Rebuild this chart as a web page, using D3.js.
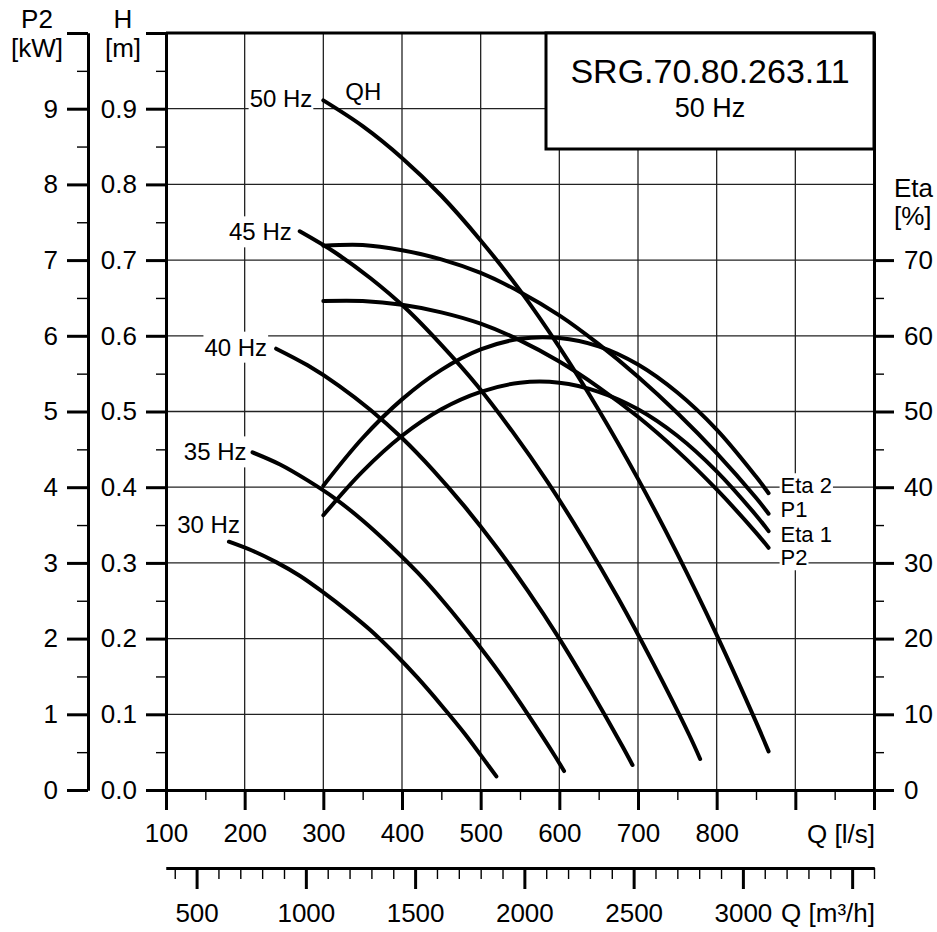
<!DOCTYPE html>
<html>
<head>
<meta charset="utf-8">
<script src="https://cdn.jsdelivr.net/npm/d3@7"></script>
<style>
  body { margin: 0; background: #fff; }
  svg { font-family: "Liberation Sans", Arial, Helvetica, sans-serif; }
</style>
</head>
<body>
<svg id="chart"></svg>
<script>
// QH curves per frequency: [Q l/s, H m]
const qh50 = [[300,0.911],[350,0.877],[400,0.835],[450,0.785],[500,0.726],[550,0.660],[600,0.585],[650,0.502],[700,0.411],[750,0.312],[800,0.205],[850,0.090],[866,0.051]];
const qh45 = [[270,0.738],[315,0.710],[360,0.676],[405,0.636],[450,0.588],[495,0.535],[540,0.474],[585,0.407],[630,0.333],[675,0.253],[720,0.166],[765,0.073],[779,0.041]];
const qh40 = [[240,0.583],[280,0.561],[320,0.534],[360,0.502],[400,0.465],[440,0.422],[480,0.374],[520,0.321],[560,0.263],[600,0.200],[640,0.131],[680,0.058],[693,0.033]];
const qh35 = [[210,0.446],[245,0.430],[280,0.409],[315,0.385],[350,0.356],[385,0.323],[420,0.287],[455,0.246],[490,0.201],[525,0.153],[560,0.100],[595,0.044],[606,0.025]];
const qh30 = [[180,0.328],[210,0.316],[240,0.301],[270,0.283],[300,0.261],[330,0.237],[360,0.211],[390,0.181],[420,0.148],[450,0.112],[480,0.074],[510,0.032],[520,0.018]];
const freqLabels = ["50 Hz", "45 Hz", "40 Hz", "35 Hz", "30 Hz"];

// power [kW] and efficiency [%] at 50 Hz
const p1 = [[300,7.19],[350,7.20],[400,7.13],[450,7.01],[500,6.83],[550,6.58],[600,6.27],[650,5.89],[700,5.46],[750,4.98],[800,4.45],[850,3.86],[866,3.65]];
const p2 = [[300,6.46],[350,6.46],[400,6.41],[450,6.31],[500,6.16],[550,5.94],[600,5.66],[650,5.32],[700,4.93],[750,4.48],[800,3.97],[850,3.40],[866,3.20]];
const eta1 = [[300,36.3],[350,42.1],[400,46.8],[450,50.3],[500,52.6],[550,53.8],[600,53.8],[650,52.6],[700,50.3],[750,46.8],[800,42.1],[850,36.3],[866,34.2]];
const eta2 = [[300,40.2],[350,46.5],[400,51.6],[450,55.5],[500,58.2],[550,59.6],[600,59.7],[650,58.6],[700,56.2],[750,52.5],[800,47.6],[850,41.4],[866,39.2]];
const sideLabels = ["Eta 2", "P1", "Eta 1", "P2"];

// ticks
const qTicks = [100, 200, 300, 400, 500, 600, 700, 800, 900, 1000];
const qMinor = [150, 250, 350, 450, 550, 650, 750, 850, 950];
const m3hTicks = [500, 1000, 1500, 2000, 2500, 3000, 3500];
const m3hMinor = [400, 600, 700, 800, 900, 1100, 1200, 1300, 1400, 1600, 1700, 1800, 1900, 2100, 2200, 2300, 2400, 2600, 2700, 2800, 2900, 3100, 3200, 3300, 3400, 3600];
const hTicks = [0, 0.1, 0.2, 0.3, 0.4, 0.5, 0.6, 0.7, 0.8, 0.9, 1.0];
const hMinor = [0.05, 0.15, 0.25, 0.35, 0.45, 0.55, 0.65, 0.75, 0.85, 0.95];
const pTicks = [0, 1, 2, 3, 4, 5, 6, 7, 8, 9, 10];
const pMinor = [0.5, 1.5, 2.5, 3.5, 4.5, 5.5, 6.5, 7.5, 8.5, 9.5];
const etaTicks = [0, 10, 20, 30, 40, 50, 60, 70];
const etaMinor = [5, 15, 25, 35, 45, 55, 65];
const qGrid = [200, 300, 400, 500, 600, 700, 800, 900];
const hGrid = [0.1, 0.2, 0.3, 0.4, 0.5, 0.6, 0.7, 0.8, 0.9];

const canvWidth = 937;
const canvHeight = 932;
const margin = { top: 33, right: 63, bottom: 142, left: 166 };
const width = canvWidth - margin.left - margin.right;
const height = canvHeight - margin.top - margin.bottom;

const svg = d3.select("#chart")
    .attr("width", canvWidth)
    .attr("height", canvHeight);
const g = svg.append("g")
    .attr("transform", "translate(" + margin.left + "," + margin.top + ")");

// scales
const x = d3.scaleLinear().domain([100, 1000]).range([0, width]);
const xM3h = d3.scaleLinear().domain([360, 3600]).range([0, width]);
const yH = d3.scaleLinear().domain([0, 1]).range([height, 0]);
const yP = d3.scaleLinear().domain([0, 10]).range([height, 0]);
const yEta = d3.scaleLinear().domain([0, 100]).range([height, 0]);

// grid
g.append("g").selectAll("line").data(qGrid).enter().append("line")
    .attr("x1", d => x(d)).attr("x2", d => x(d))
    .attr("y1", 0).attr("y2", height)
    .attr("stroke", "#222").attr("stroke-width", 1.3);
g.append("g").selectAll("line").data(hGrid).enter().append("line")
    .attr("x1", 0).attr("x2", width)
    .attr("y1", d => yH(d)).attr("y2", d => yH(d))
    .attr("stroke", "#222").attr("stroke-width", 1.3);

function styleAxis(sel, tickWidth) {
    sel.attr("font-size", 26).attr("font-family", null);
    sel.select(".domain").attr("stroke", "#000").attr("stroke-width", 3);
    sel.selectAll(".tick line").attr("stroke", "#000").attr("stroke-width", tickWidth);
    sel.selectAll(".tick text").attr("fill", "#000");
}

// H axis
g.append("g")
    .call(d3.axisLeft(yH).tickValues(hMinor).tickSize(10).tickSizeOuter(0).tickFormat(""))
    .call(s => styleAxis(s, 1.4));
g.append("g")
    .call(d3.axisLeft(yH).tickValues(hTicks).tickSize(20).tickSizeOuter(0).tickPadding(9)
        .tickFormat(d => d < 1 ? d3.format(".1f")(d) : ""))
    .call(s => styleAxis(s, 3));

// P2 axis
const pAxisX = -78;
g.append("g").attr("transform", "translate(" + pAxisX + ",0)")
    .call(d3.axisLeft(yP).tickValues(pMinor).tickSize(11).tickSizeOuter(0).tickFormat(""))
    .call(s => styleAxis(s, 1.4));
g.append("g").attr("transform", "translate(" + pAxisX + ",0)")
    .call(d3.axisLeft(yP).tickValues(pTicks).tickSize(21).tickSizeOuter(0).tickPadding(9)
        .tickFormat(d => d < 10 ? d : ""))
    .call(s => styleAxis(s, 3));

// Eta axis (right)
g.append("g").attr("transform", "translate(" + width + ",0)")
    .call(d3.axisRight(yEta).tickValues(etaMinor).tickSize(10).tickSizeOuter(0).tickFormat(""))
    .call(s => styleAxis(s, 1.4));
g.append("g").attr("transform", "translate(" + width + ",0)")
    .call(d3.axisRight(yEta).tickValues(etaTicks).tickSize(20).tickSizeOuter(0).tickPadding(10))
    .call(s => styleAxis(s, 3));

// Q [l/s] axis
g.append("g").attr("transform", "translate(0," + height + ")")
    .call(d3.axisBottom(x).tickValues(qMinor).tickSize(10).tickSizeOuter(0).tickFormat(""))
    .call(s => styleAxis(s, 1.4));
g.append("g").attr("transform", "translate(0," + height + ")")
    .call(d3.axisBottom(x).tickValues(qTicks).tickSize(20).tickSizeOuter(0).tickPadding(14)
        .tickFormat(d => d <= 800 ? d : ""))
    .call(s => styleAxis(s, 3));

// Q [m3/h] axis
const m3hY = height + 78;
g.append("g").attr("transform", "translate(0," + m3hY + ")")
    .call(d3.axisBottom(xM3h).tickValues(m3hMinor).tickSize(11).tickSizeOuter(0).tickFormat(""))
    .call(s => styleAxis(s, 1.4));
g.append("g").attr("transform", "translate(0," + m3hY + ")")
    .call(d3.axisBottom(xM3h).tickValues(m3hTicks).tickSize(21).tickSizeOuter(0).tickPadding(15)
        .tickFormat(d => d <= 3000 ? d : ""))
    .call(s => styleAxis(s, 3));

// top border
g.append("line")
    .attr("x1", 0).attr("x2", width).attr("y1", 0).attr("y2", 0)
    .attr("stroke", "#000").attr("stroke-width", 3);

// axis titles
function addText(parent, tx, ty, str, size, anchor) {
    return parent.append("text")
        .attr("x", tx).attr("y", ty)
        .attr("font-size", size)
        .attr("text-anchor", anchor || "middle")
        .attr("fill", "#000")
        .text(str);
}
addText(svg, 37, 28, "P2", 26);
addText(svg, 37, 57, "[kW]", 26);
addText(svg, 123, 28, "H", 26);
addText(svg, 123, 57, "[m]", 26);
addText(svg, 894, 197, "Eta", 26, "start");
addText(svg, 894, 225, "[%]", 26, "start");
addText(g, width + 1, height + 53, "Q [l/s]", 26, "end");
addText(g, width + 1, m3hY + 54, "Q [m³/h]", 26, "end");

// text with white background
function boxedText(tx, ty, str, size, anchor, padY) {
    const grp = g.append("g");
    const t = addText(grp, tx, ty, str, size, anchor);
    const b = t.node().getBBox();
    grp.insert("rect", "text")
        .attr("x", b.x - 1).attr("y", b.y - padY)
        .attr("width", b.width + 2).attr("height", b.height + 2 * padY)
        .attr("fill", "#fff");
}

// curves
const lineH = d3.line().x(d => x(d[0])).y(d => yH(d[1])).curve(d3.curveCatmullRom.alpha(0.5));
const lineP = d3.line().x(d => x(d[0])).y(d => yP(d[1])).curve(d3.curveCatmullRom.alpha(0.5));
const lineEta = d3.line().x(d => x(d[0])).y(d => yEta(d[1])).curve(d3.curveCatmullRom.alpha(0.5));

const qhCurves = [qh50, qh45, qh40, qh35, qh30];
const sideCurves = [
    { data: eta2, line: lineEta, y: yEta },
    { data: p1, line: lineP, y: yP },
    { data: eta1, line: lineEta, y: yEta },
    { data: p2, line: lineP, y: yP }
];

// curve labels first so curves draw on top of their backgrounds
const freqOffsets = [[-11, 7], [-8, 9], [-9, 7], [-6, 8], [11, -9]];
qhCurves.forEach(function (c, i) {
    boxedText(x(c[0][0]) + freqOffsets[i][0], yH(c[0][1]) + freqOffsets[i][1], freqLabels[i], 24, "end", 2);
});
addText(g, x(qh50[0][0]) + 22, yH(qh50[0][1]), "QH", 24, "start");

const sideOffsets = [0, 3.5, 11, 17.5];
sideCurves.forEach(function (c, i) {
    const last = c.data[c.data.length - 1];
    boxedText(x(last[0]) + 12, c.y(last[1]) + sideOffsets[i], sideLabels[i], 22, "start", 0);
});

g.append("g").selectAll("path").data(qhCurves).enter().append("path")
    .attr("d", d => lineH(d))
    .attr("fill", "none").attr("stroke", "#000")
    .attr("stroke-width", 4).attr("stroke-linecap", "round");
g.append("g").selectAll("path").data(sideCurves).enter().append("path")
    .attr("d", d => d.line(d.data))
    .attr("fill", "none").attr("stroke", "#000")
    .attr("stroke-width", 4).attr("stroke-linecap", "round");

// title box
const box = g.append("g").attr("transform", "translate(" + (width - 328) + ",0)");
box.append("rect")
    .attr("x", 0).attr("y", 0).attr("width", 328).attr("height", 116)
    .attr("fill", "#fff").attr("stroke", "#000").attr("stroke-width", 3);
addText(box, 164, 50, "SRG.70.80.263.11", 34);
addText(box, 164, 84, "50 Hz", 27);
</script>
</body>
</html>
